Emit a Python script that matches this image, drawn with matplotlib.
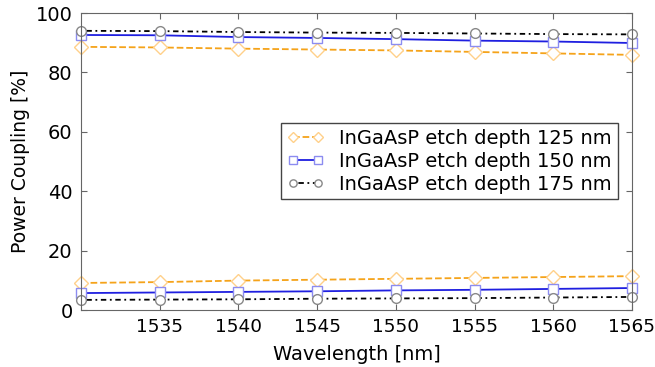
import numpy as np
import matplotlib
matplotlib.use('Agg')
import matplotlib.pyplot as plt

# Wavelength grid [nm]
wl = [1530, 1535, 1540, 1545, 1550, 1555, 1560, 1565]

# Power coupling [%], upper (main) and lower branches per etch depth
p125_hi = [88.6, 88.4, 88.0, 87.7, 87.4, 86.9, 86.4, 85.9]
p125_lo = [9.1, 9.4, 9.9, 10.2, 10.5, 10.8, 11.1, 11.4]
p150_hi = [92.6, 92.5, 91.9, 91.6, 91.2, 90.7, 90.4, 89.9]
p150_lo = [5.7, 5.9, 6.1, 6.3, 6.6, 6.8, 7.1, 7.4]
p175_hi = [94.0, 93.9, 93.6, 93.4, 93.3, 93.1, 92.9, 92.8]
p175_lo = [3.4, 3.5, 3.6, 3.8, 3.9, 4.0, 4.2, 4.4]

labels = ['InGaAsP etch depth 125 nm',
          'InGaAsP etch depth 150 nm',
          'InGaAsP etch depth 175 nm']

fig = plt.figure(figsize=(6.55, 3.67), dpi=100)
ax = fig.add_axes([81/655, 1-310/367, (632-81)/655, (310-13)/367])

styles = [
    dict(color='#f5a31a', ls='--', marker='D', mec='#ffd08a', ms=7),
    dict(color='#1f1fe0', ls='-', marker='s', mec='#8c8cf0', ms=7),
    dict(color='black', ls=(0, (1, 2, 3, 2)), marker='o', mec='#888888', ms=7),
]
his = [p125_hi, p150_hi, p175_hi]
los = [p125_lo, p150_lo, p175_lo]

for hi, lo, lab, st in zip(his, los, labels, styles):
    ax.plot(wl, hi, lw=1.3, mfc='white', mew=1.0, label=lab, clip_on=False, **st)
    ax.plot(wl, lo, lw=1.3, mfc='white', mew=1.0, clip_on=False, **st)

ax.set_xlim(1530, 1565)
ax.set_ylim(0, 100)
ax.set_xticks([1535, 1540, 1545, 1550, 1555, 1560, 1565])
ax.set_yticks([0, 20, 40, 60, 80, 100])
ax.tick_params(direction='in', top=True, right=True, labelsize=14, length=4,
               color='#666666', pad=6)
ax.tick_params(axis='x', labelsize=13.3)
for s in ax.spines.values():
    s.set_color('#666666')
ax.set_xlabel('Wavelength [nm]', fontsize=14, labelpad=6)
ax.set_ylabel('Power Coupling [%]', fontsize=13.5)

leg = ax.legend(loc='upper left', bbox_to_anchor=(200/551, 1-(123-13)/297),
                fontsize=14, numpoints=2, markerscale=0.75,
                fancybox=False, framealpha=1, edgecolor='#444444',
                handlelength=1.9, handletextpad=0.8, borderpad=0.3,
                labelspacing=0.2, borderaxespad=0)
leg.get_frame().set_linewidth(1.0)

fig.savefig('out.png', dpi=100)
